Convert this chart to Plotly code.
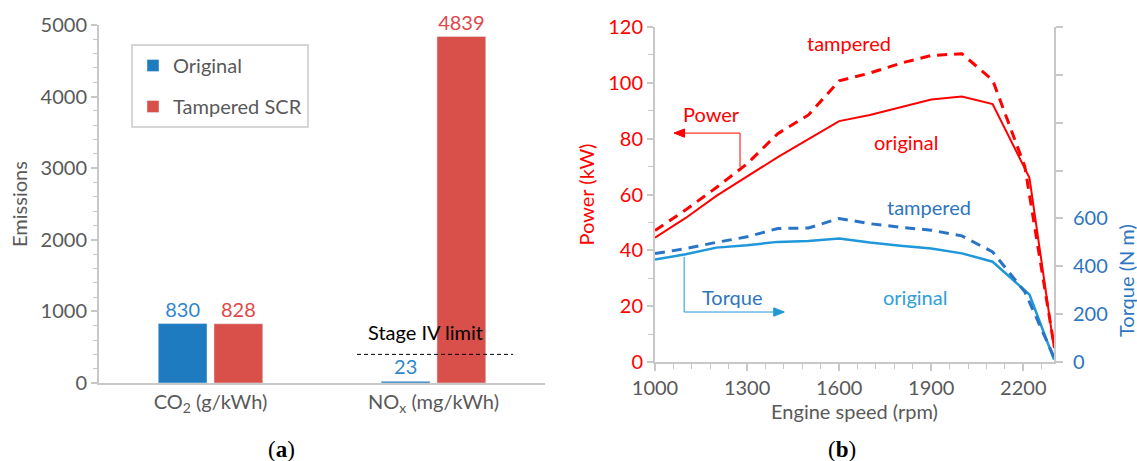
import plotly.graph_objects as go

W, H = 1137, 461

# ---------------- data: panel (a) ----------------
categories = ["CO<sub>2</sub> (g/kWh)", "NO<sub>x</sub> (mg/kWh)"]
original_emis = [830, 23]
tampered_emis = [828, 4839]
STAGE_IV_LIMIT = 400

# ---------------- data: panel (b) ----------------
rpm_pow_orig = [1000, 1100, 1200, 1300, 1400, 1500, 1600, 1700, 1800, 1900, 2000, 2100, 2220, 2300]
power_orig = [44.5, 51.6, 59.5, 66.4, 73.4, 79.8, 86.3, 88.5, 91.3, 94.0, 95.1, 92.4, 66.0, 5.0]
rpm_pow_tamp = [1000, 1100, 1200, 1300, 1400, 1500, 1600, 1700, 1800, 1900, 2000, 2100, 2205, 2300]
power_tamp = [47.1, 54.5, 62.5, 71.0, 81.8, 88.5, 100.7, 103.5, 107.0, 109.8, 110.4, 101.0, 70.0, 6.0]

rpm_torq_orig = [1000, 1100, 1200, 1300, 1400, 1500, 1600, 1700, 1800, 1900, 2000, 2100, 2220, 2300]
torque_orig = [428, 450, 478, 488, 502, 506, 516, 499, 486, 474, 454, 419, 282, 10]
rpm_torq_tamp = [1000, 1100, 1200, 1300, 1400, 1500, 1600, 1700, 1800, 1900, 2000, 2100, 2205, 2300]
torque_tamp = [453, 474, 500, 523, 558, 560, 600, 578, 563, 551, 527, 460, 293, 20]

x_ticks_b = [1000, 1300, 1600, 1900, 2200]
torque_labeled_ticks = [0, 200, 400, 600]
torque_unlabeled_ticks = [800, 1000, 1200, 1400]

# ---------------- styles ----------------
FONT = "Lato"
GRAY_AX = "#c8c8c8"
GRAY_TXT = "#595959"
BAR_BLUE = "#1f7bbf"
BAR_RED = "#d94f4a"
LBL_BLUE = "#2f86cf"
LBL_RED = "#e0474a"
RED = "#ff0000"
BLUE_DARK = "#2a74c6"
BLUE_LIGHT = "#1f97d8"
BLUE_TXT = "#2e75c0"
BLUE_TXT_L = "#2ea0dc"
FS = 20

def px_x(p):
    return p / W

def px_y(p):
    return 1 - p / H

fig = go.Figure()

# ---- panel (a) bars ----
fig.add_trace(go.Bar(
    x=categories, y=original_emis, name="Original", marker_color=BAR_BLUE,
    text=[str(v) for v in original_emis], textposition="outside",
    textfont=dict(color=LBL_BLUE, size=FS, family=FONT), cliponaxis=False,
    xaxis="x", yaxis="y", legendgroup="a1"))
fig.add_trace(go.Bar(
    x=categories, y=tampered_emis, name="Tampered SCR", marker_color=BAR_RED,
    text=[str(v) for v in tampered_emis], textposition="outside",
    textfont=dict(color=LBL_RED, size=FS, family=FONT), cliponaxis=False,
    xaxis="x", yaxis="y", legendgroup="a2"))

# ---- panel (b) lines ----
fig.add_trace(go.Scatter(x=rpm_pow_orig, y=power_orig, mode="lines",
                         line=dict(color=RED, width=2), xaxis="x2", yaxis="y2", showlegend=False))
fig.add_trace(go.Scatter(x=rpm_pow_tamp, y=power_tamp, mode="lines",
                         line=dict(color=RED, width=3, dash="10px,7px"), xaxis="x2", yaxis="y2", showlegend=False))
fig.add_trace(go.Scatter(x=rpm_torq_orig, y=torque_orig, mode="lines",
                         line=dict(color=BLUE_LIGHT, width=2.5), xaxis="x2", yaxis="y3", showlegend=False))
fig.add_trace(go.Scatter(x=rpm_torq_tamp, y=torque_tamp, mode="lines",
                         line=dict(color=BLUE_DARK, width=3, dash="10px,7px"), xaxis="x2", yaxis="y3", showlegend=False))

axis_common = dict(showgrid=False, zeroline=False, showline=True, linecolor=GRAY_AX, linewidth=2,
                   tickcolor=GRAY_AX, automargin=False)

fig.update_layout(
    width=W, height=H,
    margin=dict(l=0, r=0, t=0, b=0),
    paper_bgcolor="white", plot_bgcolor="white",
    font=dict(family=FONT, size=FS, color=GRAY_TXT),
    barmode="group", bargap=0.5, bargroupgap=0.125,
    showlegend=True,
    legend=dict(x=px_x(131), y=px_y(44), xanchor="left", yanchor="top",
                bordercolor="#d6d6d6", borderwidth=2, bgcolor="white",
                font=dict(size=FS, color=GRAY_TXT, family=FONT),
                tracegroupgap=12, itemclick=False),
    xaxis=dict(domain=[px_x(99), px_x(545)], range=[-0.5, 1.5], anchor="y",
               ticks="", tickfont=dict(size=FS, color=GRAY_TXT), **axis_common),
    yaxis=dict(domain=[px_y(383), px_y(25)], range=[0, 5000], dtick=1000, anchor="x",
               ticks="outside", ticklen=6, tickwidth=1.5,
               minor=dict(dtick=200, ticks="outside", ticklen=4, tickcolor=GRAY_AX, tickwidth=1),
               tickfont=dict(size=FS, color=GRAY_TXT),
               title=dict(text="Emissions", font=dict(size=FS, color=GRAY_TXT), standoff=8),
               **axis_common),
    xaxis2=dict(domain=[px_x(655), px_x(1054)], range=[1000, 2300], anchor="y2",
                tickvals=x_ticks_b, ticks="outside", ticklen=7, tickwidth=1.5,
                minor=dict(tick0=1000, dtick=60, ticks="outside", ticklen=5, tickcolor=GRAY_AX, tickwidth=1),
                tickfont=dict(size=FS, color=GRAY_TXT),
                title=dict(text="Engine speed (rpm)", font=dict(size=FS, color=GRAY_TXT), standoff=4),
                **axis_common),
    yaxis2=dict(domain=[px_y(362), px_y(27)], range=[0, 120], dtick=20, anchor="x2",
                ticks="outside", ticklen=6, tickwidth=1.5,
                minor=dict(dtick=10, ticks="outside", ticklen=5, tickcolor=GRAY_AX, tickwidth=1),
                tickfont=dict(size=FS, color=RED),
                title=dict(text="Power (kW)", font=dict(size=FS, color=RED), standoff=8),
                **axis_common),
    yaxis3=dict(domain=[px_y(362), px_y(27)], range=[0, 1400], overlaying="y2", side="right", anchor="x2",
                tickvals=torque_labeled_ticks,
                ticks="outside", ticklen=7, tickwidth=1.5, ticklabelstandoff=6,
                minor=dict(tickvals=torque_unlabeled_ticks, ticks="outside", ticklen=7,
                           tickcolor=GRAY_AX, tickwidth=1.5),
                tickfont=dict(size=FS, color=BLUE_TXT),
                **axis_common),
)

# right axis title (placed lower, as in the reference)
fig.add_annotation(xref="paper", yref="paper", x=px_x(1126), y=px_y(281),
                   xanchor="center", yanchor="middle",
                   text="Torque (N m)", textangle=-90, showarrow=False,
                   font=dict(size=FS, color=BLUE_TXT, family=FONT))

# Stage IV limit line
fig.add_shape(type="line", xref="x", yref="y", x0=0.657, x1=1.357,
              y0=STAGE_IV_LIMIT, y1=STAGE_IV_LIMIT,
              line=dict(color="black", width=1, dash="4px,3px"), layer="above")
fig.add_annotation(xref="x", yref="y", x=0.962, y=STAGE_IV_LIMIT, yshift=8,
                   text="Stage IV limit", showarrow=False, yanchor="bottom",
                   font=dict(color="black", size=FS, family=FONT))

# Panel (b) text labels
def txt(x, y, s, color):
    fig.add_annotation(xref="x2", yref="y2", x=x, y=y, text=s, showarrow=False,
                       xanchor="center", yanchor="middle",
                       font=dict(color=color, size=FS, family=FONT))

txt(1633, 114.2, "tampered", RED)
txt(1818, 78.8, "original", RED)
txt(1183, 88.8, "Power", RED)
txt(1893, 55.5, "tampered", BLUE_TXT)
txt(1848, 23.3, "original", BLUE_TXT_L)
txt(1254, 23.3, "Torque", BLUE_TXT)

# L-shaped pointer arrows drawn as shapes (lines + filled heads)
def pointer(xv, y_start, y_turn, x_tip, color):
    fig.add_shape(type="path", xref="x2", yref="y2",
                  path=f"M {xv},{y_start} L {xv},{y_turn} L {x_tip},{y_turn}",
                  line=dict(color=color, width=1))
    d = 34 if x_tip > xv else -34   # head length in rpm (~10 px)
    h = 1.5                         # half head height in kW (~4 px)
    fig.add_shape(type="path", xref="x2", yref="y2",
                  path=f"M {x_tip},{y_turn} L {x_tip - d},{y_turn + h} L {x_tip - d},{y_turn - h} Z",
                  line=dict(color=color, width=1), fillcolor=color)

pointer(1277, 69.8, 82.0, 1062, RED)
pointer(1095, 37.6, 17.9, 1421, BLUE_LIGHT)

# panel labels
for xp, lab in [(281, "a"), (842, "b")]:
    fig.add_annotation(xref="paper", yref="paper", x=px_x(xp), y=px_y(449),
                       xanchor="center", yanchor="middle",
                       text=f"(<b>{lab}</b>)", showarrow=False,
                       font=dict(family="Liberation Serif", size=23, color="black"))

fig.write_html("out.html")
